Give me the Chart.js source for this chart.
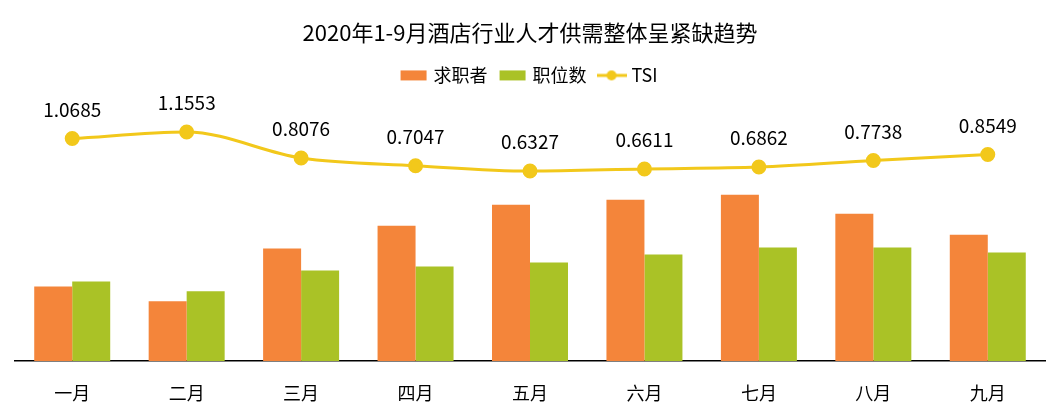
<!DOCTYPE html>
<html>
<head>
<meta charset="utf-8">
<script src="https://cdn.jsdelivr.net/npm/chart.js@4"></script>
<style>
  html, body { margin: 0; padding: 0; background: #fff; }
  #wrap { width: 1060px; height: 417px; }
</style>
</head>
<body>
<div id="wrap"><canvas id="tsiChart"></canvas></div>
<script>
const months = ['一月', '二月', '三月', '四月', '五月', '六月', '七月', '八月', '九月'];
const seekers = [75, 60, 113, 136, 157, 162, 167, 148, 127]; // 求职者
const jobs = [80, 70, 91, 95, 99, 107, 114, 114, 109];       // 职位数
const tsi = [1.0685, 1.1553, 0.8076, 0.7047, 0.6327, 0.6611, 0.6862, 0.7738, 0.8549];

const FONT = '"Noto Sans CJK SC", "Noto Sans", sans-serif';

// little canvases for the legend markers
function swatch(color, isLine) {
  const c = document.createElement('canvas');
  c.width = 30; c.height = 12;
  const g = c.getContext('2d');
  if (isLine) {
    g.strokeStyle = color; g.lineWidth = 3;
    g.beginPath(); g.moveTo(0, 6); g.lineTo(30, 6); g.stroke();
    g.fillStyle = color;
    g.beginPath(); g.arc(15, 6, 5, 0, Math.PI * 2); g.fill();
  } else {
    g.fillStyle = color;
    g.fillRect(2, 1, 26, 10);
  }
  return c;
}

// draws the TSI values above the points
const tsiLabels = {
  id: 'tsiLabels',
  afterDatasetsDraw(chart) {
    const meta = chart.getDatasetMeta(2);
    const ctx = chart.ctx;
    ctx.save();
    ctx.font = '19px ' + FONT;
    ctx.fillStyle = '#000';
    ctx.textAlign = 'center';
    ctx.textBaseline = 'middle';
    meta.data.forEach((pt, i) => {
      ctx.fillText(tsi[i].toFixed(4), pt.x, pt.y - 29);
    });
    ctx.restore();
  }
};

const ctx = document.getElementById('tsiChart').getContext('2d');
new Chart(ctx, {
  data: {
    labels: months,
    datasets: [
      {
        type: 'bar',
        label: '求职者',
        data: seekers,
        backgroundColor: '#F4853A',
        yAxisID: 'y',
        order: 2
      },
      {
        type: 'bar',
        label: '职位数',
        data: jobs,
        backgroundColor: '#AAC226',
        yAxisID: 'y',
        order: 2
      },
      {
        type: 'line',
        label: 'TSI',
        data: tsi,
        borderColor: '#F2C81B',
        backgroundColor: '#F2C81B',
        borderWidth: 3,
        pointRadius: 6,
        pointHoverRadius: 6,
        tension: 0.4,
        cubicInterpolationMode: 'monotone',
        yAxisID: 'y1',
        order: 1
      }
    ]
  },
  options: {
    responsive: true,
    maintainAspectRatio: false,
    animation: false,
    layout: { padding: { left: 15, right: 15, top: 0, bottom: -8 } },
    datasets: {
      bar: { categoryPercentage: 0.664, barPercentage: 1.0 }
    },
    plugins: {
      title: {
        display: true,
        text: '2020年1-9月酒店行业人才供需整体呈紧缺趋势',
        color: '#000',
        font: { family: FONT, size: 22, weight: 'normal' },
        padding: { top: 19, bottom: 7 }
      },
      legend: {
        labels: {
          color: '#000',
          font: { family: FONT, size: 18 },
          usePointStyle: true,
          pointStyleWidth: 22,
          boxHeight: 12,
          padding: 14,
          generateLabels(chart) {
            return chart.data.datasets.map((ds, i) => ({
              text: ds.label,
              datasetIndex: i,
              fontColor: '#000',
              pointStyle: swatch(ds.borderColor || ds.backgroundColor, ds.type === 'line'),
              hidden: false
            }));
          }
        }
      },
      tooltip: { enabled: false }
    },
    scales: {
      x: {
        grid: { display: false, drawTicks: false },
        border: { display: true, color: '#000', width: 1.5 },
        ticks: { color: '#000', font: { family: FONT, size: 18, lineHeight: 1 }, padding: 23 }
      },
      y: {
        display: false,
        min: 0,
        max: 268
      },
      y1: {
        display: false,
        min: -1.913,
        max: 1.66
      }
    }
  },
  plugins: [tsiLabels]
});
</script>
</body>
</html>
